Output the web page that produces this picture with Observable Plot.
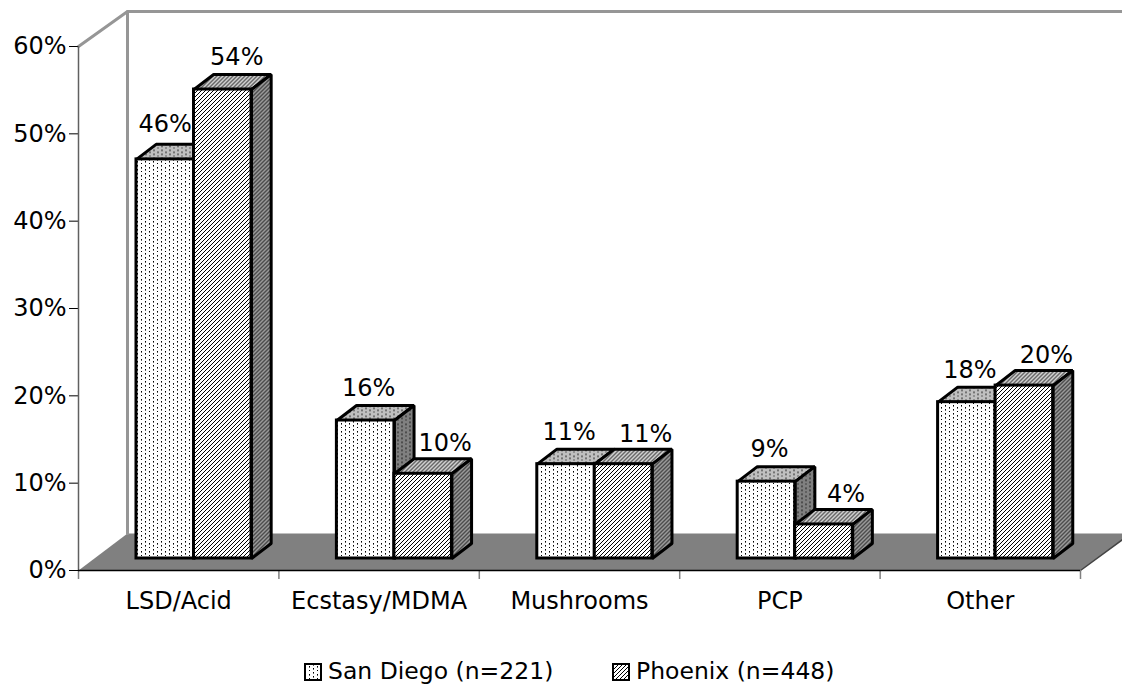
<!DOCTYPE html>
<html><head><meta charset="utf-8">
<script src="https://cdn.jsdelivr.net/npm/d3@7"></script>
<script src="https://cdn.jsdelivr.net/npm/@observablehq/plot@0.6"></script>
<style>
html,body{margin:0;padding:0;background:#fff;width:1122px;height:687px;overflow:hidden;font-family:"DejaVu Sans",sans-serif;color:#000}
#legend{position:absolute;left:0;top:645px;width:1122px;height:42px;font-size:23.5px}
#legend svg{position:absolute;top:18px;width:18px;height:18px}
#legend span{position:absolute;top:9px;line-height:34px;white-space:nowrap}
</style></head><body>
<div id="chart"></div>
<div id="legend"></div>
<script>
const categories = ["LSD/Acid","Ecstasy/MDMA","Mushrooms","PCP","Other"];
const seriesNames = ["San Diego (n=221)","Phoenix (n=448)"];
const sanDiego = [45.7,15.8,10.8,8.8,17.9];
const phoenix = [53.7,9.7,10.8,3.9,19.8];
const yTicks = [0,10,20,30,40,50,60];

// 3D projection, in data units of the two linear scales
const wallX = 0.2445, wallY = 4.237, wallTop = 64, floorRight = 5.21;
const barStart = 0.2894, barW = 0.287, depthX = 0.098, depthY = 1.72, baseLift = -12;

const defs = () => {
  const s = d3.create("svg:defs");
  const dots = (id,bg) => {
    const p = s.append("pattern").attr("id",id).attr("patternUnits","userSpaceOnUse").attr("width",8).attr("height",8);
    p.append("rect").attr("width",8).attr("height",8).attr("fill",bg);
    [[1,1],[1,5],[5,3],[5,7]].forEach(([x,y])=>p.append("rect").attr("x",x).attr("y",y).attr("width",1).attr("height",1.6).attr("fill","#000"));
  };
  const hatch = (id,bg) => {
    const p = s.append("pattern").attr("id",id).attr("patternUnits","userSpaceOnUse").attr("width",4).attr("height",4);
    p.append("rect").attr("width",4).attr("height",4).attr("fill",bg);
    p.append("path").attr("d","M-1,5L5,-1M-1,1L1,-1M3,5L5,3").attr("stroke","#000").attr("stroke-width",1);
  };
  dots("sdFront","#fff"); dots("sdTop","#c0c0c0"); dots("sdSide","#808080");
  hatch("phFront","#fff"); hatch("phTop","#d0d0d0"); hatch("phSide","#9a9a9a");
  return s.node();
};

const rows = (vals,offset) => vals.map((v,i)=>({cat:i,v,x1:i+barStart+offset*barW,x2:i+barStart+(offset+1)*barW}));
const poly = (rs,f) => rs.flatMap(r=>f(r).map(([x,y])=>({id:r.cat,x,y})));
const topFace = r => [[r.x1,r.v],[r.x2,r.v],[r.x2+depthX,r.v+depthY],[r.x1+depthX,r.v+depthY]];
const sideFace = r => [[r.x2,0],[r.x2+depthX,depthY],[r.x2+depthX,r.v+depthY],[r.x2,r.v]];
const barStyle = {stroke:"#000",strokeWidth:3,strokeLinejoin:"miter"};
const bars = (rs,k) => [
  Plot.line(poly(rs,topFace),{x:"x",y:"y",z:"id",curve:"linear-closed",fill:`url(#${k}Top)`,dy:baseLift,...barStyle}),
  Plot.line(poly(rs,sideFace),{x:"x",y:"y",z:"id",curve:"linear-closed",fill:`url(#${k}Side)`,dy:baseLift,...barStyle}),
  Plot.rect(rs,{x1:"x1",x2:"x2",y1:0,y2:"v",fill:`url(#${k}Front)`,dy:baseLift,...barStyle})
];

const sd = rows(sanDiego,0), ph = rows(phoenix,1);
const label = (data,dx,dy) => Plot.text(data,{x:d=>(d.x1+d.x2)/2,y:"v",text:d=>Math.round(d.v)+"%",dx,dy,fill:"#000"});

const chart = Plot.plot({
  width:1122,height:645,
  marginLeft:78,marginRight:42,marginTop:46,marginBottom:75,
  style:{fontFamily:'"DejaVu Sans",sans-serif',fontSize:"24px",background:"transparent",overflow:"visible"},
  x:{domain:[0,5]},
  y:{domain:[0,60]},
  marks:[
    defs,
    Plot.line([{x:0,y:0},{x:wallX,y:wallY},{x:floorRight,y:wallY},{x:floorRight,y:wallY-0.7},{x:5,y:0}],{x:"x",y:"y",curve:"linear-closed",fill:"#808080",stroke:"none"}),
    Plot.line([{x:0,y:60},{x:wallX,y:wallTop},{x:floorRight,y:wallTop}],{x:"x",y:"y",stroke:"#969696",strokeWidth:3}),
    Plot.line([{x:wallX,y:wallTop},{x:wallX,y:wallY}],{x:"x",y:"y",stroke:"#969696",strokeWidth:3}),
    Plot.line([{x:5,y:0},{x:floorRight,y:wallY-0.7}],{x:"x",y:"y",stroke:"#444",strokeWidth:1.5}),
    Plot.axisX({ticks:[0,1,2,3,4,5],tickSize:9,tickFormat:()=>"",stroke:"#808080",strokeWidth:1.5}),
    Plot.axisX({ticks:categories.map((c,i)=>i+0.5),tickSize:0,tickPadding:21,tickFormat:d=>categories[d-0.5],fill:"#000",label:null}),
    Plot.axisY({ticks:yTicks,tickSize:9,tickPadding:3,tickFormat:d=>d+"%",stroke:"#000",fill:"#000",label:null}),
    Plot.ruleX([0],{y1:0,y2:60,stroke:"#606060",strokeWidth:1.5}),
    Plot.ruleY([0],{x1:0,x2:5,stroke:"#000",strokeWidth:1.5}),
    ...bars(sd,"sd"),
    ...bars(ph,"ph"),
    label(sd.filter(d=>d.cat>0),3,-44),
    label(ph.filter(d=>d.cat>0),22,-42),
    label(sd.filter(d=>d.cat===0),0,-47),
    label(ph.filter(d=>d.cat===0),14,-44)
  ]
});
document.getElementById("chart").appendChild(chart);

const legend = d3.select("#legend");
[[304,"sdFront",328],[612,"phFront",636]].forEach(([sx,fill,tx],i)=>{
  const s = legend.append("svg").style("left",sx+"px");
  s.append("rect").attr("x",1).attr("y",1).attr("width",16).attr("height",16).attr("fill",`url(#${fill})`).attr("stroke","#000").attr("stroke-width",2);
  legend.append("span").style("left",tx+"px").text(seriesNames[i]);
});
</script>
</body></html>
